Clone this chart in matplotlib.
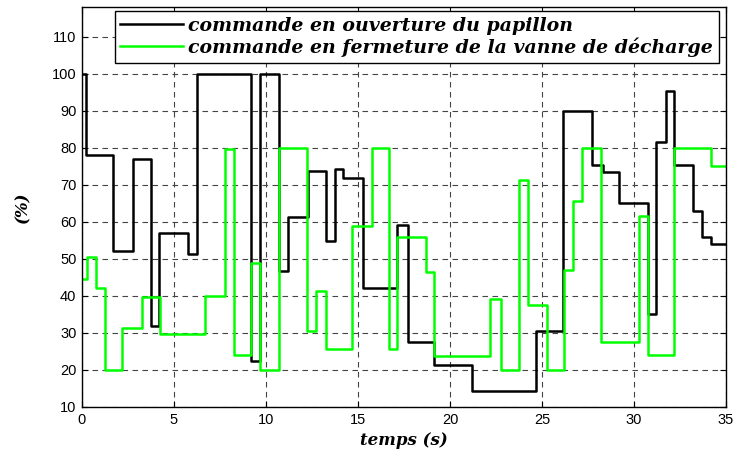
import matplotlib
matplotlib.use("Agg")
import matplotlib.pyplot as plt

# Data: step change times (s) and values (%)
t_papillon = [0, 0.22, 1.7, 2.75, 3.73, 4.17, 5.74, 6.23, 9.18, 9.67, 10.72, 11.2,
              12.26, 13.26, 13.73, 14.2, 15.25, 17.12, 17.7, 19.15, 21.2, 24.66,
              26.16, 27.73, 28.3, 29.2, 30.78, 31.2, 31.72, 32.17, 33.22, 33.7,
              34.18, 35]
v_papillon = [100, 78, 52, 77, 32, 57, 51.3, 100, 22.5, 100, 46.8, 61.3,
              73.7, 54.9, 74.3, 71.8, 42, 59.1, 27.5, 21.3, 14.3, 30.4,
              89.8, 75.4, 73.4, 65.2, 35.1, 81.6, 95.3, 75.3, 62.8, 55.8,
              54.1, 54.1]

t_vanne = [0, 0.29, 0.74, 1.23, 2.19, 3.28, 4.22, 6.68, 7.77, 8.28, 9.18, 9.67,
           10.72, 12.21, 12.73, 13.26, 14.69, 15.78, 16.69, 17.14, 18.7, 19.15,
           22.19, 22.75, 23.73, 24.22, 25.25, 26.2, 26.7, 27.15, 28.2, 30.27,
           30.78, 32.17, 34.18, 35]
v_vanne = [44.5, 50.6, 42.1, 19.9, 31.4, 39.6, 29.7, 39.9, 79.7, 24.05, 48.8, 19.9,
           80, 30.6, 41.2, 25.7, 58.8, 80, 25.7, 56, 46.5, 23.7,
           39.2, 19.9, 71.2, 37.6, 19.9, 47, 65.5, 80, 27.5, 61.6,
           24.05, 80, 75.2, 75.2]

labels = ["commande en ouverture du papillon",
          "commande en fermeture de la vanne de décharge"]
x_ticks = [0, 5, 10, 15, 20, 25, 30, 35]
y_ticks = [10, 20, 30, 40, 50, 60, 70, 80, 90, 100, 110]

fig = plt.figure(figsize=(7.38, 4.57), dpi=100)
ax = fig.add_axes([82/738, 50/457, 644/738, 400/457])

ax.plot(t_papillon, v_papillon, drawstyle="steps-post", color="black", lw=1.8,
        label=labels[0])
ax.plot(t_vanne, v_vanne, drawstyle="steps-post", color="#00ff00", lw=1.8,
        label=labels[1])

ax.set_xlim(0, 35)
ax.set_ylim(10, 118)
ax.set_xticks(x_ticks)
ax.set_yticks(y_ticks)
ax.tick_params(direction="in", length=4, width=0.8, top=True, right=True,
               labelsize=10.5, pad=4)
for lab in ax.get_xticklabels() + ax.get_yticklabels():
    lab.set_fontfamily("Liberation Sans")
for s in ax.spines.values():
    s.set_linewidth(1.0)
ax.grid(True, color="#444444", linestyle=(0, (5, 4)), lw=0.8)

ax.set_xlabel("temps (s)", fontfamily="DejaVu Serif", fontstyle="italic",
              fontweight="bold", fontsize=12, labelpad=4)
ax.set_ylabel("(%)", fontfamily="DejaVu Serif", fontstyle="italic",
              fontweight="bold", fontsize=12, labelpad=15)

leg = ax.legend(loc="upper right", bbox_to_anchor=(0.989, 0.99),
                prop={"family": "DejaVu Serif", "style": "italic",
                      "weight": "bold", "size": 13.6},
                frameon=True, fancybox=False, framealpha=1, edgecolor="black",
                handlelength=3.3, handletextpad=0.3, labelspacing=0.15,
                borderpad=0.3, borderaxespad=0)
leg.get_frame().set_linewidth(1.0)

fig.savefig("out.png", dpi=100)
